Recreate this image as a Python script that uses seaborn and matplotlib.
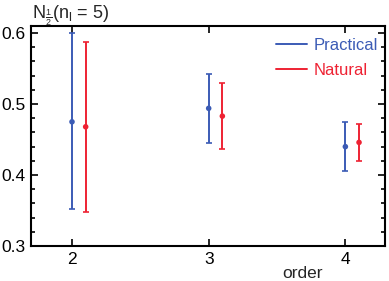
import matplotlib
matplotlib.use("Agg")
import matplotlib.pyplot as plt
from matplotlib.lines import Line2D
from matplotlib.ticker import MultipleLocator
import seaborn as sns
import pandas as pd

orders = [2, 3, 4]
practical_mean = [0.475, 0.494, 0.440]
practical_low = [0.352, 0.445, 0.406]
practical_high = [0.600, 0.543, 0.475]
natural_mean = [0.468, 0.483, 0.446]
natural_low = [0.348, 0.436, 0.420]
natural_high = [0.587, 0.530, 0.472]
series_names = ["Practical", "Natural"]
colors = {"Practical": "#3B5BB5", "Natural": "#EE2233"}
offsets = {"Practical": 0.0, "Natural": 0.1}

rows = []
for name, m, lo, hi in [("Practical", practical_mean, practical_low, practical_high),
                        ("Natural", natural_mean, natural_low, natural_high)]:
    for o, mv, l, h in zip(orders, m, lo, hi):
        rows.append({"order": o, "x": o + offsets[name], "value": mv, "low": l, "high": h, "series": name})
df = pd.DataFrame(rows)

sns.set_style("ticks")
plt.rcParams["font.family"] = ["Liberation Sans", "DejaVu Sans"]
plt.rcParams["mathtext.fontset"] = "custom"
plt.rcParams["mathtext.rm"] = "Liberation Sans"
plt.rcParams["mathtext.it"] = "Liberation Sans"

fig = plt.figure(figsize=(3.89, 2.81), dpi=100)
ax = fig.add_axes([31/389, 35/281, 354/389, 220/281])

for name in series_names:
    sub = df[df["series"] == name]
    ax.errorbar(sub["x"], sub["value"],
                yerr=[sub["value"] - sub["low"], sub["high"] - sub["value"]],
                fmt="none", ecolor=colors[name], elinewidth=1.4, capsize=2.5, capthick=1.2)
sns.scatterplot(data=df, x="x", y="value", hue="series", palette=colors,
                s=16, edgecolor="none", legend=False, ax=ax, zorder=3)

ax.set_xlim(1.70, 4.29)
ax.set_ylim(0.3, 0.61)
ax.set_xticks(orders)
ax.set_xticklabels([str(o) for o in orders])
ax.yaxis.set_major_locator(MultipleLocator(0.1))
ax.yaxis.set_minor_locator(MultipleLocator(0.02))
ax.set_yticks([0.3, 0.4, 0.5, 0.6])
ax.set_yticklabels(["0.3", "0.4", "0.5", "0.6"])
ax.tick_params(axis="both", which="both", direction="in", top=True, right=True,
               labelsize=12.5, width=1.2, color="black", labelcolor="black")
ax.tick_params(axis="both", which="major", length=5, pad=4)
ax.tick_params(axis="y", which="minor", length=3)
for sp in ax.spines.values():
    sp.set_linewidth(1.5)
    sp.set_color("black")

ax.set_ylabel("")
ax.set_xlabel("order", fontsize=12.5)
ax.xaxis.set_label_coords(0.768, -0.09)

fig.text(32/389, 1 - 18/281, r"N$_{\frac{1}{2}}$(n$_\mathrm{l}$ = 5)", fontsize=13,
         ha="left", va="baseline")

handles = [Line2D([0], [0], color=colors[n], lw=1.4) for n in series_names]
leg = ax.legend(handles, series_names, loc="upper right", frameon=False,
                fontsize=12, handlelength=1.9, handletextpad=0.4,
                labelspacing=0.6, borderaxespad=0.0, bbox_to_anchor=(1.0, 0.975))
for t, n in zip(leg.get_texts(), series_names):
    t.set_color(colors[n])

fig.savefig("out.png", dpi=100)
